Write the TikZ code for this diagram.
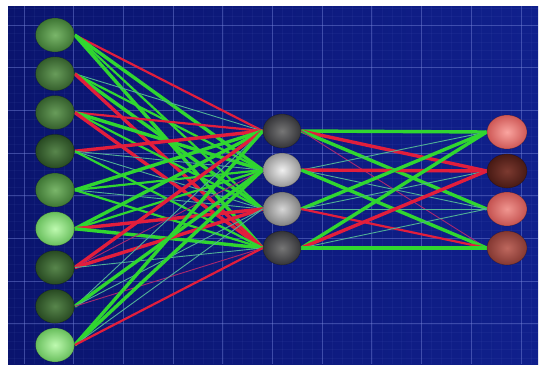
\documentclass[tikz,border=0pt]{standalone}
\usetikzlibrary{shapes.geometric}
\pgfdeclarelayer{back}
\pgfdeclarelayer{wires}
\pgfsetlayers{back,wires,main}

\definecolor{wgreen}{RGB}{48,214,48}
\definecolor{wred}{RGB}{226,30,60}
\definecolor{wteal}{RGB}{80,176,150}
\definecolor{wplum}{RGB}{170,40,110}
\definecolor{bgleft}{RGB}{10,20,110}
\definecolor{bgright}{RGB}{16,32,140}
\definecolor{gridmaj}{RGB}{120,135,220}

\tikzset{
  neuron/.style={ellipse, minimum width=39pt, minimum height=34pt, inner sep=0pt,
    shading=radial, draw=black, draw opacity=0.25, line width=0.6pt},
  gmid/.style={inner color={rgb,255:red,122;green,182;blue,106}, outer color={rgb,255:red,62;green,118;blue,52}},
  gdim/.style={inner color={rgb,255:red,104;green,156;blue,90}, outer color={rgb,255:red,52;green,94;blue,44}},
  gdark/.style={inner color={rgb,255:red,88;green,134;blue,76}, outer color={rgb,255:red,40;green,74;blue,34}},
  glight/.style={inner color={rgb,255:red,190;green,250;blue,176}, outer color={rgb,255:red,104;green,190;blue,92}},
  kdark/.style={inner color={rgb,255:red,118;green,118;blue,118}, outer color={rgb,255:red,52;green,52;blue,56}},
  klight/.style={inner color={rgb,255:red,240;green,240;blue,240}, outer color={rgb,255:red,150;green,150;blue,150}},
  kmid/.style={inner color={rgb,255:red,214;green,214;blue,214}, outer color={rgb,255:red,128;green,128;blue,128}},
  rpink/.style={inner color={rgb,255:red,250;green,165;blue,160}, outer color={rgb,255:red,206;green,88;blue,86}},
  rbrown/.style={inner color={rgb,255:red,124;green,58;blue,48}, outer color={rgb,255:red,72;green,26;blue,20}},
  rrose/.style={inner color={rgb,255:red,240;green,150;blue,144}, outer color={rgb,255:red,196;green,82;blue,80}},
  rdim/.style={inner color={rgb,255:red,190;green,104;blue,94}, outer color={rgb,255:red,132;green,56;blue,50}},
  gk/.style={draw=wgreen, line width=3.4pt},
  gm/.style={draw=wgreen, line width=2.2pt},
  rk/.style={draw=wred, line width=3.4pt},
  rm/.style={draw=wred, line width=2.2pt},
  tt/.style={draw=wteal, line width=0.9pt},
  tp/.style={draw=wplum, line width=0.9pt},
}

\begin{document}
\begin{tikzpicture}[x=1pt, y=-1pt]
\useasboundingbox (0,0) rectangle (542,367);

% backdrop and grid
\begin{pgfonlayer}{back}
  \fill[white] (0,0) rectangle (542,367);
  \shade[left color=bgleft, right color=bgright] (8,6) rectangle (538,364);
  \begin{scope}
    \clip (8,6) rectangle (538,364);
    \foreach \k in {-1,...,55}
      \draw[gridmaj, opacity=0.07, line width=0.5pt] (24+9.94*\k,6) -- (24+9.94*\k,364);
    \foreach \k in {-3,...,40}
      \draw[gridmaj, opacity=0.07, line width=0.5pt] (8,25+8.54*\k) -- (538,25+8.54*\k);
    \foreach \k in {0,...,10}
      \draw[gridmaj, opacity=0.42, line width=1pt] (24+49.7*\k,6) -- (24+49.7*\k,364);
    \foreach \k in {0,...,7}
      \draw[gridmaj, opacity=0.42, line width=1pt] (8,25+42.7*\k) -- (538,25+42.7*\k);
  \end{scope}
\end{pgfonlayer}

% input layer
\node[neuron, gmid]   (l1) at (55,35) {};
\node[neuron, gdim]   (l2) at (55,73.75) {};
\node[neuron, gdim]   (l3) at (55,112.5) {};
\node[neuron, gdark]  (l4) at (55,151.25) {};
\node[neuron, gmid]   (l5) at (55,190) {};
\node[neuron, glight] (l6) at (55,228.75) {};
\node[neuron, gdark]  (l7) at (55,267.5) {};
\node[neuron, gdark]  (l8) at (55,306.25) {};
\node[neuron, glight] (l9) at (55,345) {};

% hidden layer
\node[neuron, kdark, minimum width=38pt]  (m1) at (282,131) {};
\node[neuron, klight, minimum width=38pt] (m2) at (282,170) {};
\node[neuron, kmid, minimum width=38pt]   (m3) at (282,209) {};
\node[neuron, kdark, minimum width=38pt]  (m4) at (282,248) {};

% output layer
\node[neuron, rpink, minimum width=40pt]  (r1) at (507,132) {};
\node[neuron, rbrown, minimum width=40pt] (r2) at (507,171) {};
\node[neuron, rrose, minimum width=40pt]  (r3) at (507,209) {};
\node[neuron, rdim, minimum width=40pt]   (r4) at (507,248) {};

% weighted connections
\begin{pgfonlayer}{wires}
  \foreach \a/\b/\s in {
      1/1/rm, 1/2/gk, 1/3/gm, 1/4/gk,
      2/1/tt, 2/2/gm, 2/3/gk, 2/4/rk,
      3/1/rm, 3/2/gk, 3/3/gm, 3/4/rk,
      4/1/rk, 4/2/tt, 4/3/tt, 4/4/gm,
      5/1/gk, 5/2/gm, 5/3/tt, 5/4/gm,
      6/1/gk, 6/2/gm, 6/3/rk, 6/4/gk,
      7/1/rk, 7/2/tp, 7/3/rk, 7/4/tt,
      8/1/tt, 8/2/gk, 8/3/tt, 8/4/tp,
      9/1/gk, 9/2/gk, 9/3/tt, 9/4/rm}
    \draw[\s] (l\a.east) -- (m\b.west);
  \foreach \a/\b/\s in {
      1/1/gk, 1/2/rk, 1/3/gk, 1/4/tp,
      2/1/tt, 2/2/rk, 2/3/tt, 2/4/gk,
      3/1/gk, 3/2/tt, 3/3/tt, 3/4/rm,
      4/1/gk, 4/2/rk, 4/3/tt, 4/4/gk}
    \draw[\s] (m\a.east) -- (r\b.west);
\end{pgfonlayer}
\end{tikzpicture}
\end{document}
